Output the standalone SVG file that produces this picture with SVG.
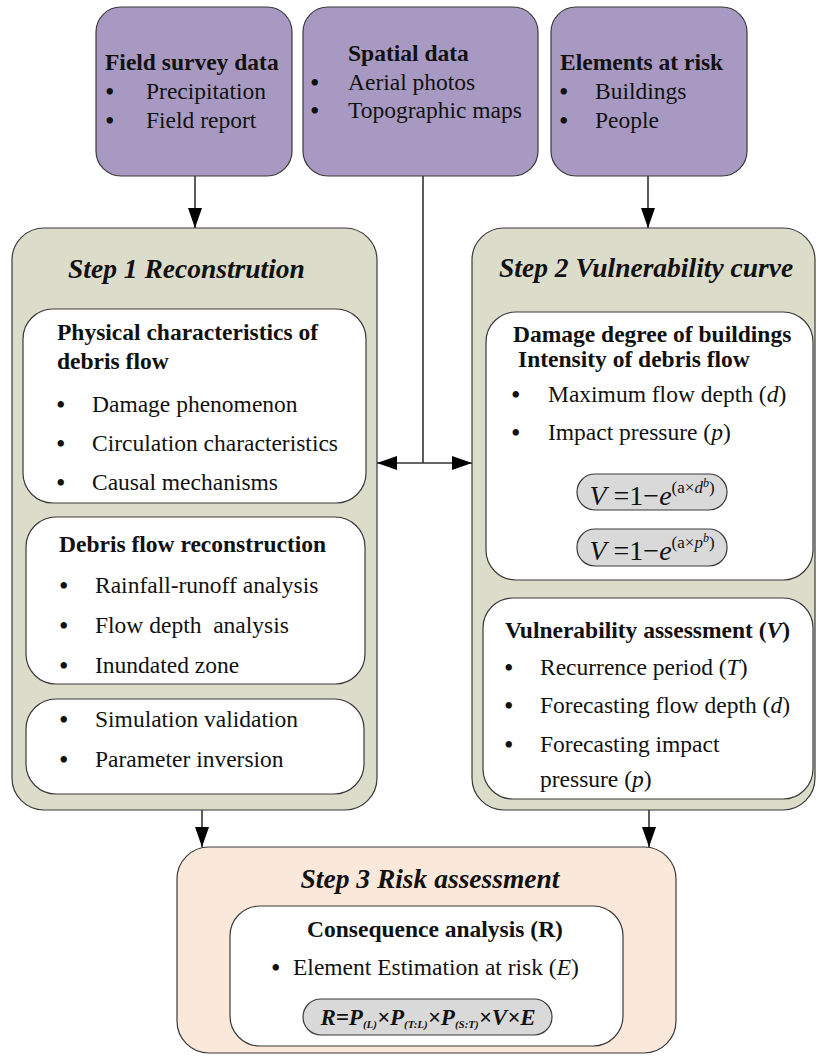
<svg xmlns="http://www.w3.org/2000/svg" width="817" height="1057" viewBox="0 0 817 1057">
<defs>
<marker id="ah" viewBox="0 0 20 14" refX="20" refY="7" markerWidth="20" markerHeight="14" markerUnits="userSpaceOnUse" orient="auto-start-reverse">
<path d="M0,0 L20,7 L0,14 Z" fill="#000"/>
</marker>
<style>
.src{fill:#a899c2;stroke:#3a3a3a;stroke-width:1.2}
.step{fill:#dcdccb;stroke:#3a3a3a;stroke-width:1.2}
.risk{fill:#fae8da;stroke:#3a3a3a;stroke-width:1.2}
.inner{fill:#fff;stroke:#3a3a3a;stroke-width:1.2}
.pill{fill:#d9d9d9;stroke:#3a3a3a;stroke-width:1.2}
.con{fill:none;stroke:#333;stroke-width:1.6}
text{font-family:"Liberation Serif","Times New Roman",serif;fill:#111}
.t{font-size:23.5px}
.d{font-size:27px}
.b{font-size:23.5px;font-weight:bold}
.h{font-size:27.5px;font-weight:bold;font-style:italic}
.i{font-style:italic}
</style>
</defs>

<g id="connectors">
<line class="con" x1="195" y1="176" x2="195" y2="228" marker-end="url(#ah)"/>
<line class="con" x1="648" y1="176" x2="648" y2="228" marker-end="url(#ah)"/>
<line class="con" x1="423" y1="176" x2="423" y2="463"/>
<line class="con" x1="377" y1="463" x2="472" y2="463" marker-start="url(#ah)" marker-end="url(#ah)"/>
<line class="con" x1="202" y1="810" x2="202" y2="847" marker-end="url(#ah)"/>
<line class="con" x1="649" y1="810" x2="649" y2="847" marker-end="url(#ah)"/>
</g>

<g id="field-survey">
<rect class="src" x="96" y="7" width="196" height="169" rx="25"/>
<text class="b" x="105" y="70">Field survey data</text>
<text class="d" x="105" y="101">•</text><text class="t" x="146" y="99">Precipitation</text>
<text class="d" x="105" y="130">•</text><text class="t" x="146" y="128">Field report</text>
</g>

<g id="spatial-data">
<rect class="src" x="303" y="7" width="235" height="169" rx="25"/>
<text class="b" x="348" y="61">Spatial data</text>
<text class="d" x="310" y="92">•</text><text class="t" x="348" y="90">Aerial photos</text>
<text class="d" x="310" y="120">•</text><text class="t" x="348" y="118">Topographic maps</text>
</g>

<g id="elements-at-risk">
<rect class="src" x="551" y="7" width="196" height="169" rx="25"/>
<text class="b" x="560" y="70">Elements at risk</text>
<text class="d" x="559" y="101">•</text><text class="t" x="595" y="99">Buildings</text>
<text class="d" x="559" y="130">•</text><text class="t" x="595" y="128">People</text>
</g>

<g id="step1">
<rect class="step" x="12" y="228" width="365" height="582" rx="32"/>
<text class="h" x="68" y="278">Step 1 Reconstrution</text>
</g>

<g id="physical">
<rect class="inner" x="23" y="309" width="343" height="194" rx="30"/>
<text class="b" x="57" y="340">Physical characteristics of</text>
<text class="b" x="57" y="369">debris flow</text>
<text class="d" x="56" y="414">•</text><text class="t" x="92" y="412">Damage phenomenon</text>
<text class="d" x="56" y="453">•</text><text class="t" x="92" y="451">Circulation characteristics</text>
<text class="d" x="56" y="492">•</text><text class="t" x="92" y="490">Causal mechanisms</text>
</g>

<g id="reconstruction">
<rect class="inner" x="26" y="517" width="339" height="167" rx="30"/>
<text class="b" x="59" y="552">Debris flow reconstruction</text>
<text class="d" x="59" y="595">•</text><text class="t" x="95" y="593">Rainfall-runoff analysis</text>
<text class="d" x="59" y="635">•</text><text class="t" x="95" y="633" xml:space="preserve">Flow depth  analysis</text>
<text class="d" x="59" y="675">•</text><text class="t" x="95" y="673">Inundated zone</text>
</g>

<g id="simulation">
<rect class="inner" x="26" y="699" width="338" height="95" rx="30"/>
<text class="d" x="59" y="729">•</text><text class="t" x="95" y="727">Simulation validation</text>
<text class="d" x="59" y="769">•</text><text class="t" x="95" y="767">Parameter inversion</text>
</g>

<g id="step2">
<rect class="step" x="472" y="228" width="343" height="582" rx="32"/>
<text class="h" x="499" y="277">Step 2 Vulnerability curve</text>
</g>

<g id="damage-degree">
<rect class="inner" x="486" y="312" width="327" height="268" rx="30"/>
<text class="b" x="513" y="342">Damage degree of buildings</text>
<text class="b" x="518" y="367">Intensity of debris flow</text>
<text class="d" x="511" y="404">•</text><text class="t" x="548" y="402">Maximum flow depth (<tspan class="i">d</tspan>)</text>
<text class="d" x="511" y="442">•</text><text class="t" x="548" y="440">Impact pressure (<tspan class="i">p</tspan>)</text>
<rect class="pill" x="577" y="474" width="150" height="36" rx="18"/>
<text x="652" y="505" font-size="28" text-anchor="middle"><tspan class="i">V</tspan> =1−<tspan class="i">e</tspan><tspan font-size="17" dy="-12">(a×<tspan class="i">d</tspan></tspan><tspan font-size="12" class="i" dy="-6">b</tspan><tspan font-size="17" dy="6">)</tspan></text>
<rect class="pill" x="577" y="529" width="150" height="37" rx="18"/>
<text x="652" y="560" font-size="28" text-anchor="middle"><tspan class="i">V</tspan> =1−<tspan class="i">e</tspan><tspan font-size="17" dy="-12">(a×<tspan class="i">p</tspan></tspan><tspan font-size="12" class="i" dy="-6">b</tspan><tspan font-size="17" dy="6">)</tspan></text>
</g>

<g id="vulnerability-assessment">
<rect class="inner" x="483" y="598" width="330" height="201" rx="30"/>
<text class="b" x="505" y="638">Vulnerability assessment (<tspan class="i">V</tspan>)</text>
<text class="d" x="504" y="677">•</text><text class="t" x="540" y="675">Recurrence period (<tspan class="i">T</tspan>)</text>
<text class="d" x="504" y="715">•</text><text class="t" x="540" y="713">Forecasting flow depth (<tspan class="i">d</tspan>)</text>
<text class="d" x="504" y="754">•</text><text class="t" x="540" y="752">Forecasting impact</text>
<text class="t" x="540" y="787">pressure (<tspan class="i">p</tspan>)</text>
</g>

<g id="step3">
<rect class="risk" x="177" y="847" width="499" height="206" rx="32"/>
<text class="h" x="430" y="888" text-anchor="middle">Step 3 Risk assessment</text>
</g>

<g id="consequence">
<rect class="inner" x="230" y="906" width="393" height="140" rx="30"/>
<text class="b" x="435" y="937" text-anchor="middle">Consequence analysis (R)</text>
<text class="d" x="271" y="977">•</text><text class="t" x="293" y="975">Element Estimation at risk (<tspan class="i">E</tspan>)</text>
<rect class="pill" x="303" y="999" width="249" height="36" rx="18"/>
<text x="428" y="1025" font-size="23" font-weight="bold" font-style="italic" text-anchor="middle">R=P<tspan font-size="11" dy="3">(L)</tspan><tspan dy="-3">×P</tspan><tspan font-size="11" dy="3">(T:L)</tspan><tspan dy="-3">×P</tspan><tspan font-size="11" dy="3">(S:T)</tspan><tspan dy="-3">×V×E</tspan></text>
</g>
</svg>
